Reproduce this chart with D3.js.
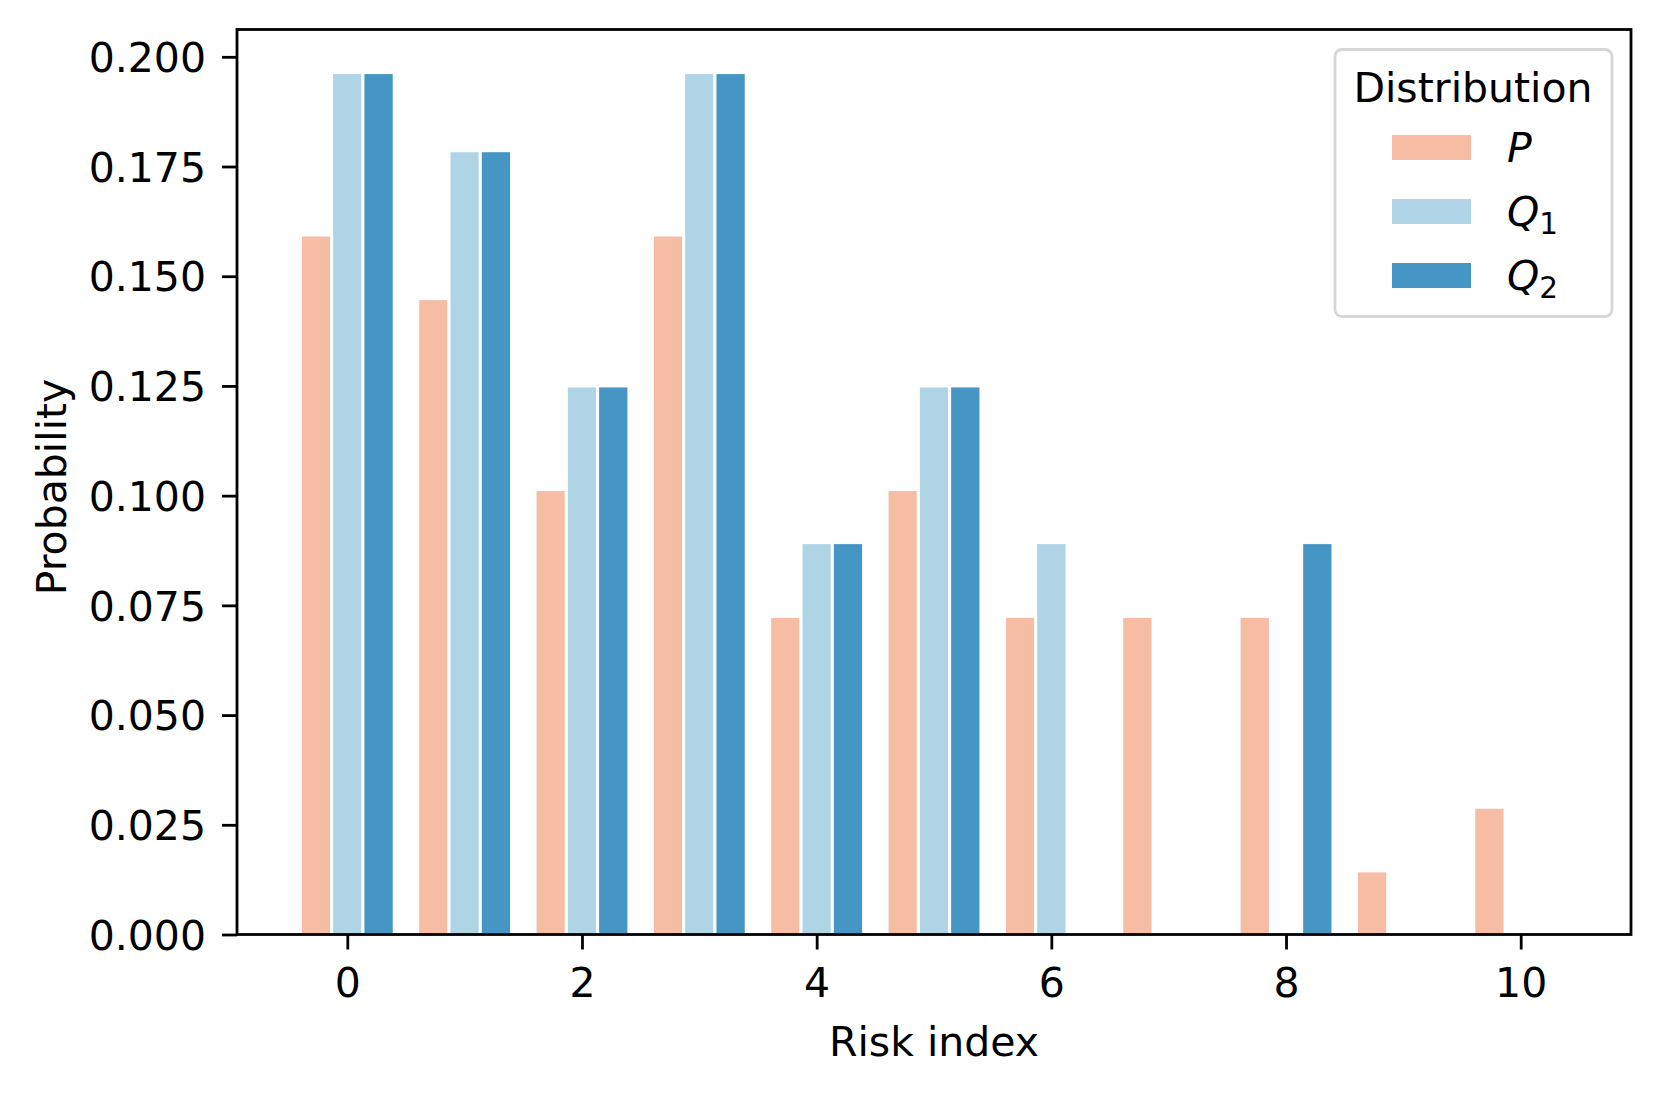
<!DOCTYPE html>
<html>
<head>
<meta charset="utf-8">
<script src="https://cdn.jsdelivr.net/npm/d3@7"></script>
<style>
  html, body { margin: 0; padding: 0; background: #ffffff; }
  svg { display: block; }
  text { font-family: "DejaVu Sans", sans-serif; fill: #000; }
</style>
</head>
<body>
<svg id="chart" width="1662" height="1095"></svg>
<script>
// ---- data ----
const riskIndex = [0, 1, 2, 3, 4, 5, 6, 7, 8, 9, 10];
const seriesNames = ["P", "Q1", "Q2"];
const pValues  = [0.1594, 0.1449, 0.1014, 0.1594, 0.0725, 0.1014, 0.0725, 0.0725, 0.0725, 0.0145, 0.0290];
const q1Values = [0.1964, 0.1786, 0.1250, 0.1964, 0.0893, 0.1250, 0.0893, 0, 0, 0, 0];
const q2Values = [0.1964, 0.1786, 0.1250, 0.1964, 0.0893, 0.1250, 0, 0, 0.0893, 0, 0];
const yTicks = [0, 0.025, 0.05, 0.075, 0.1, 0.125, 0.15, 0.175, 0.2];
const xTicks = [0, 2, 4, 6, 8, 10];
const colors = ["#f6bca4", "#afd4e6", "#4596c4"];

// ---- layout ----
const svg = d3.select("#chart");
const L = 237, R = 1631, T = 29.5, B = 934.5;
const fs = 41;
const barW = 0.8 / 3;
const offsets = [-barW, 0, barW];

const x = d3.scaleLinear().domain([-0.94, 10.94]).range([L, R]);
const yMax = d3.max([...pValues, ...q1Values, ...q2Values]) * 1.05;
const y = d3.scaleLinear().domain([0, yMax]).range([B, T]);

const allSeries = [pValues, q1Values, q2Values];

// bars
allSeries.forEach((vals, si) => {
  svg.append("g")
    .selectAll("rect")
    .data(riskIndex.map((r, i) => ({ r, v: vals[i] })).filter(d => d.v > 0))
    .join("rect")
    .attr("x", d => x(d.r + offsets[si] - barW / 2))
    .attr("width", d => x(d.r + offsets[si] + barW / 2) - x(d.r + offsets[si] - barW / 2))
    .attr("y", d => y(d.v))
    .attr("height", d => y(0) - y(d.v))
    .attr("fill", colors[si])
    .attr("stroke", "#ffffff")
    .attr("stroke-width", 3);
});

// axes
const yAxis = d3.axisLeft(y).tickValues(yTicks).tickFormat(d3.format(".3f")).tickSize(15).tickPadding(16);
const xAxis = d3.axisBottom(x).tickValues(xTicks).tickFormat(d3.format("d")).tickSize(15).tickPadding(16);

const gy = svg.append("g").attr("transform", `translate(${L},0)`).call(yAxis);
const gx = svg.append("g").attr("transform", `translate(0,${B})`).call(xAxis);
[gx, gy].forEach(g => {
  g.select(".domain").remove();
  g.selectAll(".tick line").attr("stroke", "#000").attr("stroke-width", 2.8);
  g.selectAll(".tick text").attr("font-size", fs).attr("font-family", "DejaVu Sans").attr("fill", "#000");
});
gy.selectAll(".tick text").attr("dy", "0.36em");
gx.selectAll(".tick text").attr("dy", "0.76em");

// frame
svg.append("rect")
  .attr("x", L).attr("y", T).attr("width", R - L).attr("height", B - T)
  .attr("fill", "none").attr("stroke", "#000").attr("stroke-width", 2.8);

// axis labels
svg.append("text")
  .attr("x", (L + R) / 2).attr("y", 1056)
  .attr("text-anchor", "middle").attr("font-size", fs)
  .text("Risk index");
svg.append("text")
  .attr("transform", `translate(66,487) rotate(-90)`)
  .attr("text-anchor", "middle").attr("font-size", fs)
  .text("Probability");

// legend
const lg = svg.append("g");
lg.append("rect")
  .attr("x", 1335).attr("y", 49.5).attr("width", 277).attr("height", 267)
  .attr("rx", 7).attr("ry", 7)
  .attr("fill", "#ffffff").attr("fill-opacity", 0.8)
  .attr("stroke", "#d6d6d6").attr("stroke-width", 2.8);
lg.append("text")
  .attr("x", 1473).attr("y", 102)
  .attr("text-anchor", "middle").attr("font-size", fs)
  .text("Distribution");

const legendRows = [
  { main: "P", sub: null, top: 135 },
  { main: "Q", sub: "1", top: 199 },
  { main: "Q", sub: "2", top: 263 }
];
legendRows.forEach((row, i) => {
  lg.append("rect")
    .attr("x", 1392).attr("y", row.top)
    .attr("width", 79).attr("height", 25)
    .attr("fill", colors[i]);
  const t = lg.append("text")
    .attr("x", 1507).attr("y", row.top + 27)
    .attr("font-size", fs);
  t.append("tspan").attr("font-style", "italic").text(row.main);
  if (row.sub) {
    t.append("tspan").attr("font-size", fs * 0.72).attr("dy", 8).text(row.sub);
  }
});
</script>
</body>
</html>
